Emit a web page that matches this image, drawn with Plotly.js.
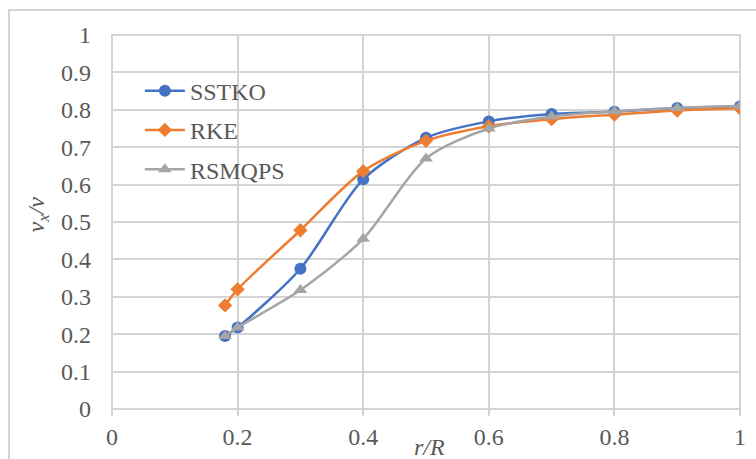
<!DOCTYPE html>
<html>
<head>
<meta charset="utf-8">
<script src="https://cdn.plot.ly/plotly-3.0.1.min.js"></script>
<style>
html,body{margin:0;padding:0;background:#fff;}
#chart{width:756px;height:459px;}
</style>
</head>
<body>
<div id="chart"></div>
<script>
const rR = [0.18, 0.2, 0.3, 0.4, 0.5, 0.6, 0.7, 0.8, 0.9, 1.0];
const SSTKO = [0.195, 0.218, 0.375, 0.614, 0.725, 0.769, 0.789, 0.795, 0.805, 0.809];
const RKE = [0.277, 0.320, 0.478, 0.636, 0.717, 0.756, 0.775, 0.787, 0.798, 0.804];
const RSMQPS = [0.195, 0.218, 0.318, 0.455, 0.670, 0.750, 0.782, 0.796, 0.805, 0.810];
const xTicks = [0, 0.2, 0.4, 0.6, 0.8, 1];
const yTicks = [0, 0.1, 0.2, 0.3, 0.4, 0.5, 0.6, 0.7, 0.8, 0.9, 1];

const FONT = "Liberation Serif";
const TXT = "#595959";
const GRID = "#D4D4D4";

function mk(name, y, color, symbol, size, group) {
  return {
    x: rR, y: y, name: name, type: "scatter", mode: "lines+markers",
    legendgroup: group,
    line: {color: color, width: 2.5, shape: "spline", smoothing: 0.8},
    marker: {color: color, symbol: symbol, size: size}
  };
}
const data = [
  mk("SSTKO", SSTKO, "#4472C4", "circle", 12, "a"),
  mk("RKE", RKE, "#ED7D31", "diamond", 11, "b"),
  mk("RSMQPS", RSMQPS, "#A5A5A5", "triangle-up", 12, "c")
];

const layout = {
  width: 756, height: 459,
  margin: {l: 112, r: 16, t: 35, b: 50},
  paper_bgcolor: "rgba(0,0,0,0)", plot_bgcolor: "rgba(0,0,0,0)",
  font: {family: FONT, color: TXT, size: 24},
  showlegend: true,
  legend: {
    x: 0.0444, y: 0.91, xanchor: "left", yanchor: "top",
    bgcolor: "rgba(0,0,0,0)", font: {family: FONT, size: 24, color: TXT},
    traceorder: "grouped", tracegroupgap: 5, itemwidth: 40
  },
  xaxis: {
    range: [0, 1], tickvals: xTicks, ticktext: xTicks.map(String),
    showgrid: true, gridcolor: GRID, gridwidth: 2, layer: "below traces",
    zeroline: false, showline: false,
    ticks: "outside", ticklen: 6, tickcolor: GRID, tickwidth: 2,
    tickfont: {family: FONT, size: 24, color: TXT},
    ticklabelstandoff: 0, fixedrange: true
  },
  yaxis: {
    range: [0, 1], tickvals: yTicks, ticktext: yTicks.map(String),
    showgrid: true, gridcolor: GRID, gridwidth: 2, layer: "below traces",
    zeroline: false, showline: false, ticks: "",
    tickfont: {family: FONT, size: 24, color: TXT},
    ticklabelstandoff: 20, fixedrange: true
  },
  shapes: [
    {type: "rect", xref: "paper", yref: "paper", x0: 0, x1: 1, y0: 0, y1: 1,
     line: {color: GRID, width: 2}, fillcolor: "rgba(0,0,0,0)", layer: "below"},
    {type: "rect", xref: "paper", yref: "paper", x0: -0.164, x1: 1.03, y0: -0.2, y1: 1.0668,
     line: {color: GRID, width: 2}, fillcolor: "rgba(0,0,0,0)", layer: "below"}
  ],
  annotations: [
    {text: "<i>r/R</i>", xref: "paper", yref: "paper", x: 0.505, y: -0.102,
     xanchor: "center", yanchor: "middle", showarrow: false,
     font: {family: FONT, size: 24, color: TXT}},
    {text: "<i>v<sub>x</sub>/v</i>", xref: "paper", yref: "paper", x: -0.118, y: 0.52,
     xanchor: "center", yanchor: "middle", showarrow: false, textangle: -90,
     font: {family: FONT, size: 24, color: TXT}}
  ]
};

Plotly.newPlot("chart", data, layout, {displayModeBar: false, staticPlot: true});
</script>
</body>
</html>
